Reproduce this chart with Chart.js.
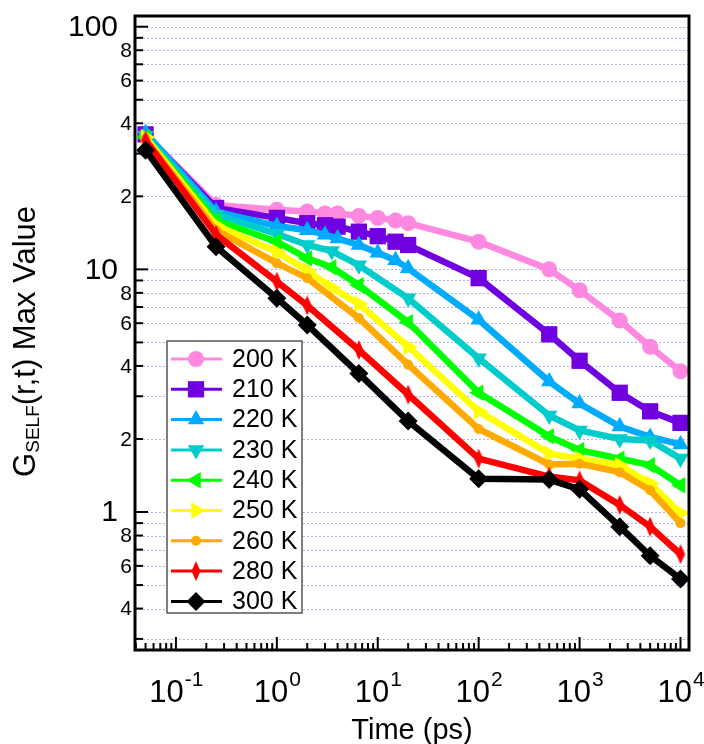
<!DOCTYPE html>
<html>
<head>
<meta charset="utf-8">
<script src="https://cdn.jsdelivr.net/npm/chart.js@4"></script>
<style>
  body { margin: 0; background: #fff; }
  canvas { display: block; }
</style>
</head>
<body>
<canvas id="chart" width="704" height="744"></canvas>
<script>
// time points (ps) - not every curve has a marker at every time
const timesA = [0.05, 0.25, 1, 2, 3, 4, 6.5, 10, 15, 20, 100, 500, 1000, 2500, 5000, 10000];
const timesB = [0.05, 0.25, 1, 2, 3.5, 6.5, 20, 100, 500, 1000, 2500, 5000, 10000];
const timesC = [0.05, 0.25, 1, 2, 6.5, 20, 100, 500, 1000, 2500, 5000, 10000];

// max value of G_self(r,t) per temperature
const g200 = [36, 18.4, 17.6, 17.3, 17.0, 17.0, 16.6, 16.3, 15.9, 15.5, 13.0, 10.0, 8.2, 6.15, 4.8, 3.8];
const g210 = [36, 17.9, 16.3, 15.5, 15.2, 15.0, 14.3, 13.7, 13.0, 12.6, 9.2, 5.4, 4.2, 3.1, 2.6, 2.33];
const g220 = [36.5, 17.3, 15.1, 14.5, 13.9, 13.4, 12.6, 11.7, 10.9, 10.1, 6.2, 3.45, 2.8, 2.25, 2.04, 1.9];
const g230 = [35.5, 16.8, 14.0, 12.6, 11.9, 10.4, 7.6, 4.3, 2.5, 2.17, 2.0, 1.97, 1.66];
const g240 = [35, 15.9, 13.0, 11.1, 10.2, 8.6, 6.05, 3.1, 2.05, 1.8, 1.66, 1.56, 1.29];
const g250 = [35, 15.2, 11.8, 9.9, 8.4, 7.2, 4.8, 2.6, 1.74, 1.66, 1.56, 1.31, 0.99];
const g260 = [34.5, 14.5, 10.6, 9.2, 6.3, 4.05, 2.2, 1.57, 1.58, 1.46, 1.23, 0.9];
const g280 = [34, 13.9, 8.9, 7.1, 4.65, 3.05, 1.66, 1.4, 1.35, 1.07, 0.87, 0.67];
const g300 = [31, 12.4, 7.6, 5.9, 3.72, 2.37, 1.37, 1.36, 1.24, 0.87, 0.66, 0.53];

const seriesNames = ['200 K', '210 K', '220 K', '230 K', '240 K', '250 K', '260 K', '280 K', '300 K'];

// axis ticks
const yTickValues = [0.3, 0.4, 0.5, 0.6, 0.7, 0.8, 0.9, 1, 2, 3, 4, 5, 6, 7, 8, 9, 10, 20, 30, 40, 50, 60, 70, 80, 90, 100];
const yTickLabels = ['', '4', '', '6', '', '8', '', '1', '2', '', '4', '', '6', '', '8', '', '10', '2', '', '4', '', '6', '', '8', '', '100'];
const yMajor = [1, 10, 100];
const xMajor = [0.1, 1, 10, 100, 1000, 10000];
const xExponents = ['-1', '0', '1', '2', '3', '4'];

const FONT = "'Liberation Sans', Arial, sans-serif";

// thin vertical diamond used for 280 K
function thinDiamond(color) {
    const c = document.createElement('canvas');
    c.width = 10;
    c.height = 20;
    const g = c.getContext('2d');
    g.fillStyle = color;
    g.beginPath();
    g.moveTo(5, 0);
    g.lineTo(9.5, 10);
    g.lineTo(5, 20);
    g.lineTo(0.5, 10);
    g.closePath();
    g.fill();
    return c;
}

const styles = [
    { color: '#FF88E0', point: 'circle', radius: 8, rot: 0 },
    { color: '#7000E0', point: 'rect', radius: 11.5, rot: 0 },
    { color: '#00AAFF', point: 'triangle', radius: 9.5, rot: 0 },
    { color: '#00CCCC', point: 'triangle', radius: 9.5, rot: 180 },
    { color: '#00FF00', point: 'triangle', radius: 9.5, rot: 270 },
    { color: '#FFFF00', point: 'triangle', radius: 9.5, rot: 90 },
    { color: '#FFAA00', point: 'circle', radius: 5, rot: 0 },
    { color: '#FF0000', point: thinDiamond('#FF0000'), radius: 9, rot: 0 },
    { color: '#000000', point: 'rectRot', radius: 9.5, rot: 0 }
];

const timeSets = [timesA, timesA, timesA, timesB, timesB, timesB, timesC, timesC, timesC];
const valueSets = [g200, g210, g220, g230, g240, g250, g260, g280, g300];

const datasets = seriesNames.map((name, i) => ({
    label: name,
    data: timeSets[i].map((t, j) => ({ x: t, y: valueSets[i][j] })),
    borderColor: styles[i].color,
    backgroundColor: styles[i].color,
    borderWidth: 6.5,
    pointStyle: styles[i].point,
    pointRadius: styles[i].radius,
    pointRotation: styles[i].rot,
    pointBorderWidth: 0,
    tension: 0,
    order: seriesNames.length - i // 300 K ends up on top
}));

function drawMarker(ctx, st, x, y) {
    if (Chart.helpers && Chart.helpers.drawPoint) {
        ctx.fillStyle = st.color;
        Chart.helpers.drawPoint(ctx, { pointStyle: st.point, radius: st.radius, rotation: st.rot, borderWidth: 0 }, x, y);
    }
}

const decorations = {
    id: 'decorations',
    beforeDatasetsDraw(chart) {
        const { ctx, chartArea: a, scales } = chart;
        ctx.save();
        ctx.strokeStyle = '#aab0f0';
        ctx.lineWidth = 1;
        ctx.setLineDash([2, 2]);
        yTickValues.forEach(v => {
            const y = Math.round(scales.y.getPixelForValue(v)) + 0.5;
            ctx.beginPath();
            ctx.moveTo(a.left, y);
            ctx.lineTo(a.right, y);
            ctx.stroke();
        });
        ctx.restore();
    },
    afterDatasetsDraw(chart) {
        const { ctx, chartArea: a, scales } = chart;
        const xs = scales.x, ys = scales.y;
        ctx.save();

        // frame
        ctx.strokeStyle = '#000';
        ctx.lineWidth = 3;
        ctx.strokeRect(a.left, a.top, a.right - a.left, a.bottom - a.top);

        // y ticks, pointing inwards
        ctx.lineWidth = 2;
        ctx.fillStyle = '#000';
        ctx.textBaseline = 'middle';
        ctx.textAlign = 'right';
        yTickValues.forEach((v, i) => {
            const y = ys.getPixelForValue(v);
            const major = yMajor.includes(v);
            ctx.beginPath();
            ctx.moveTo(a.left, y);
            ctx.lineTo(a.left + (major ? 13 : 8), y);
            ctx.stroke();
            if (yTickLabels[i]) {
                ctx.font = major ? '30px ' + FONT : '21px ' + FONT;
                ctx.fillText(yTickLabels[i], major ? a.left - 17 : a.left - 3, y + 1);
            }
        });

        // x ticks: decades plus 2..9 in between
        const xMinor = [];
        [0.01, 0.1, 1, 10, 100, 1000].forEach(d => {
            for (let k = 2; k <= 9; k++) xMinor.push(d * k);
        });
        xMinor.concat(xMajor).forEach(v => {
            if (v < xs.min || v > xs.max) return;
            const x = xs.getPixelForValue(v);
            const len = xMajor.includes(v) ? 13 : 7;
            ctx.beginPath();
            ctx.moveTo(x, a.bottom);
            ctx.lineTo(x, a.bottom - len);
            ctx.stroke();
        });

        // x labels 10^n
        ctx.textAlign = 'left';
        ctx.textBaseline = 'alphabetic';
        xMajor.forEach((v, i) => {
            const x = xs.getPixelForValue(v);
            ctx.font = '31px ' + FONT;
            const wBase = ctx.measureText('10').width;
            ctx.font = '21px ' + FONT;
            const wExp = ctx.measureText(xExponents[i]).width;
            const x0 = x - (wBase + wExp) / 2;
            ctx.font = '31px ' + FONT;
            ctx.fillText('10', x0, 702);
            ctx.font = '21px ' + FONT;
            ctx.fillText(xExponents[i], x0 + wBase + 1, 686);
        });

        // axis titles
        ctx.font = '29px ' + FONT;
        ctx.textAlign = 'center';
        ctx.fillText('Time (ps)', (a.left + a.right) / 2, 739);

        ctx.save();
        ctx.translate(35, 0);
        ctx.rotate(-Math.PI / 2);
        const parts = [
            { t: 'G', f: '31px ', dy: 0 },
            { t: 'SELF', f: '19px ', dy: 4 },
            { t: '(r,t) Max Value', f: '31px ', dy: 0 }
        ];
        let total = 0;
        parts.forEach(p => { ctx.font = p.f + FONT; p.w = ctx.measureText(p.t).width; total += p.w; });
        let px = -(206 + total); // title ends near y = 206
        ctx.textAlign = 'left';
        parts.forEach(p => {
            ctx.font = p.f + FONT;
            ctx.fillText(p.t, px, p.dy);
            px += p.w;
        });
        ctx.restore();

        // legend box
        const lx = 167, ly = 341, lw = 135, lh = 272;
        ctx.fillStyle = '#fff';
        ctx.fillRect(lx, ly, lw, lh);
        ctx.strokeStyle = '#555';
        ctx.lineWidth = 1.5;
        ctx.strokeRect(lx, ly, lw, lh);
        ctx.font = '25px ' + FONT;
        ctx.textBaseline = 'middle';
        ctx.textAlign = 'left';
        seriesNames.forEach((name, i) => {
            const y = ly + 18 + i * 30.3;
            const st = styles[i];
            ctx.strokeStyle = st.color;
            ctx.lineWidth = 3;
            ctx.beginPath();
            ctx.moveTo(lx + 4, y);
            ctx.lineTo(lx + 55, y);
            ctx.stroke();
            drawMarker(ctx, st, lx + 29, y);
            ctx.fillStyle = '#000';
            ctx.fillText(name, lx + 65, y + 1);
        });

        ctx.restore();
    }
};

new Chart(document.getElementById('chart'), {
    type: 'line',
    data: { datasets: datasets },
    options: {
        responsive: false,
        animation: false,
        devicePixelRatio: 1,
        layout: { padding: { left: 0, right: 15, top: 16, bottom: 0 } },
        plugins: { legend: { display: false }, tooltip: { enabled: false } },
        scales: {
            x: {
                type: 'logarithmic',
                min: 0.0393,
                max: 12140,
                grid: { display: false },
                border: { display: false },
                ticks: { display: false },
                afterFit: s => { s.height = 94; }
            },
            y: {
                type: 'logarithmic',
                min: 0.27,
                max: 110.7,
                grid: { display: false },
                border: { display: false },
                ticks: { display: false },
                afterFit: s => { s.width = 135; }
            }
        }
    },
    plugins: [decorations]
});
</script>
</body>
</html>
